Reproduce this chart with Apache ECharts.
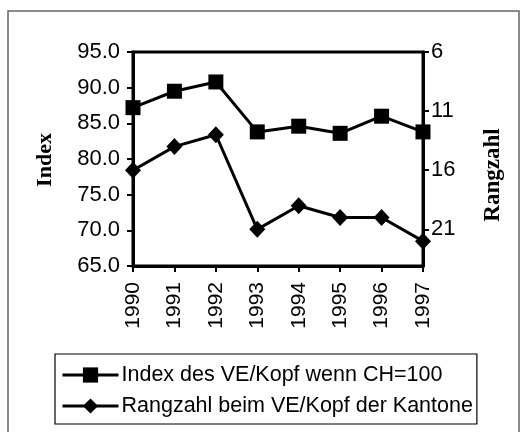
<!DOCTYPE html>
<html>
<head>
<meta charset="utf-8">
<script src="https://cdn.jsdelivr.net/npm/echarts@6/dist/echarts.min.js"></script>
<style>
  html, body { margin: 0; padding: 0; background: #fff; }
  #chart { width: 523px; height: 432px; }
</style>
</head>
<body>
<div id="chart"></div>
<script>
// Jahre und Werte
const years = ['1990', '1991', '1992', '1993', '1994', '1995', '1996', '1997']
const indexValues = [87.2, 89.5, 90.8, 83.8, 84.6, 83.6, 86.0, 83.8]
const rankValues = [16, 14, 13, 21, 19, 20, 20, 22]
const rankTicks = [6, 11, 16, 21]

const seriesNames = ['Index des VE/Kopf wenn CH=100', 'Rangzahl beim VE/Kopf der Kantone']

const font = 'Arial, "Liberation Sans", sans-serif'
const serif = '"Times New Roman", "Liberation Serif", serif'

var myChart = echarts.init(document.getElementById('chart'))

var option = {
    animation: false,
    backgroundColor: '#fff',
    textStyle: { fontFamily: font, color: '#000' },
    grid: {
        left: 133,
        right: 100,
        top: 52,
        bottom: 166,
        show: true,
        borderColor: '#000',
        borderWidth: 3
    },
    graphic: [
        {
            type: 'rect',
            shape: { x: 8, y: 11, width: 511, height: 430 },
            style: { fill: 'none', stroke: '#666', lineWidth: 1.5 }
        },
        {
            type: 'text',
            x: 45, y: 160,
            rotation: Math.PI / 2,
            style: {
                text: 'Index', font: 'bold 22px ' + serif,
                fill: '#000', align: 'center', verticalAlign: 'middle'
            }
        },
        {
            type: 'text',
            x: 493, y: 175,
            rotation: Math.PI / 2,
            style: {
                text: 'Rangzahl', font: 'bold 23px ' + serif,
                fill: '#000', align: 'center', verticalAlign: 'middle'
            }
        }
    ],
    legend: {
        data: seriesNames,
        orient: 'vertical',
        left: 55,
        top: 354,
        padding: [10, 4, 7, 6],
        itemGap: 9,
        itemWidth: 56,
        itemHeight: 19,
        borderColor: '#000',
        borderWidth: 1.2,
        lineStyle: { width: 3, color: '#000' },
        textStyle: { fontFamily: font, fontSize: 21.5, color: '#000', padding: [0, 0, 0, -2] }
    },
    xAxis: {
        type: 'category',
        data: years,
        boundaryGap: false,
        axisLine: { lineStyle: { color: '#000', width: 3 } },
        axisTick: { alignWithLabel: true, length: 6, lineStyle: { color: '#000', width: 2 } },
        axisLabel: { rotate: 90, margin: 16, fontSize: 21, color: '#000', fontFamily: font }
    },
    yAxis: [
        {
            type: 'value',
            min: 65,
            max: 95,
            interval: 5,
            splitLine: { show: false },
            axisLine: { show: true, lineStyle: { color: '#000', width: 3 } },
            axisTick: { show: true, length: 6, lineStyle: { color: '#000', width: 2 } },
            axisLabel: {
                margin: 13, fontSize: 22, color: '#000', fontFamily: font,
                formatter: v => v.toFixed(1)
            }
        },
        {
            type: 'value',
            min: 6,
            max: 24.1,
            inverse: true,
            position: 'right',
            splitLine: { show: false },
            axisLine: { show: true, lineStyle: { color: '#000', width: 3 } },
            axisTick: { show: true, length: 6, customValues: rankTicks, lineStyle: { color: '#000', width: 2 } },
            axisLabel: {
                margin: 8, fontSize: 22, color: '#000', fontFamily: font,
                customValues: rankTicks
            }
        }
    ],
    series: [
        {
            name: seriesNames[0],
            type: 'line',
            yAxisIndex: 0,
            data: indexValues,
            symbol: 'rect',
            symbolSize: 15,
            lineStyle: { color: '#000', width: 3 },
            itemStyle: { color: '#000', borderWidth: 0 }
        },
        {
            name: seriesNames[1],
            type: 'line',
            yAxisIndex: 1,
            data: rankValues,
            symbol: 'diamond',
            symbolSize: [16, 17],
            lineStyle: { color: '#000', width: 3 },
            itemStyle: { color: '#000', borderWidth: 0 }
        }
    ]
}

myChart.setOption(option)
</script>
</body>
</html>
